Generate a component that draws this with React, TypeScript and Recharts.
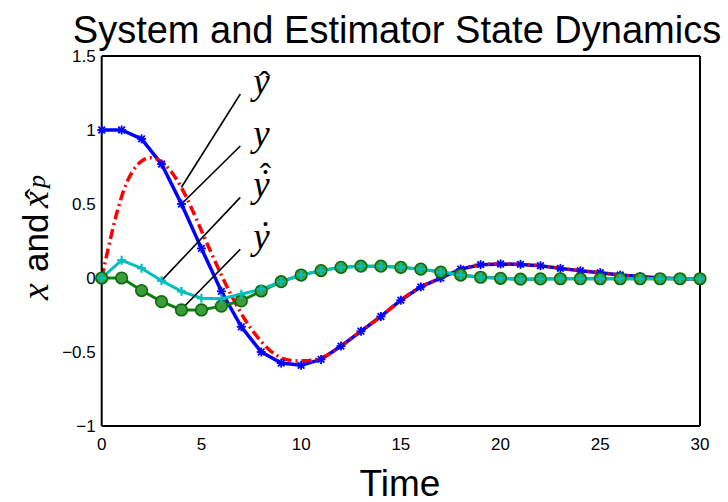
import React from 'react';
import { LineChart, Line, XAxis, YAxis, ReferenceLine, ReferenceDot } from 'recharts';

// ---- data ----
const time = [0, 1, 2, 3, 4, 5, 6, 7, 8, 9, 10, 11, 12, 13, 14, 15, 16, 17, 18, 19, 20, 21, 22, 23, 24, 25, 26, 27, 28, 29, 30];
// y (blue, stars)
const ySeries = [1.0, 1.0, 0.94, 0.77, 0.5, 0.2, -0.09, -0.33, -0.5, -0.575, -0.59, -0.55, -0.46, -0.36, -0.26, -0.15, -0.06, 0.0, 0.06, 0.09, 0.095, 0.092, 0.083, 0.065, 0.049, 0.036, 0.02, 0.01, 0.0, -0.005, -0.005];
// y-hat (red dash-dot)
const yHatSeries = [0, 0.55, 0.79, 0.785, 0.61, 0.32, 0.02, -0.24, -0.43, -0.54, -0.56, -0.54, -0.46, -0.36, -0.26, -0.15, -0.06, 0.0, 0.06, 0.09, 0.095, 0.092, 0.083, 0.065, 0.049, 0.036, 0.02, 0.01, 0.0, -0.005, -0.005];
// y-dot-hat (cyan, plus)
const yDotHatSeries = [0, 0.12, 0.066, -0.018, -0.09, -0.137, -0.14, -0.11, -0.076, -0.025, 0.02, 0.05, 0.072, 0.08, 0.08, 0.072, 0.06, 0.04, 0.02, 0.005, -0.002, -0.008, -0.006, -0.005, -0.005, -0.005, -0.005, -0.005, -0.005, -0.005, -0.005];
// y-dot (green, circles)
const yDotSeries = [0, 0.0, -0.085, -0.16, -0.216, -0.216, -0.19, -0.155, -0.088, -0.025, 0.02, 0.05, 0.072, 0.08, 0.08, 0.072, 0.06, 0.04, 0.02, 0.005, -0.002, -0.008, -0.006, -0.005, -0.005, -0.005, -0.005, -0.005, -0.005, -0.005, -0.005];

const xTicks = [0, 5, 10, 15, 20, 25, 30];
const yTicks = [-1, -0.5, 0, 0.5, 1, 1.5];
const yTickLabels = ['\u22121', '\u22120.5', '0', '0.5', '1', '1.5'];

// annotation pointers: from label anchor to curve point
const annotKinds = ['hat', 'plain', 'dothat', 'dot'];
const annotFromX = [6.95, 6.95, 6.95, 6.95];
const annotFromY = [1.243, 0.892, 0.545, 0.194];
const annotToX = [4, 4, 3, 4];
const annotToY = [0.613, 0.5, -0.018, -0.211];

const titleText = 'System and Estimator State Dynamics';
const xLabelText = 'Time';

const data = time.map((t, i) => ({
  t,
  y: ySeries[i],
  yHat: yHatSeries[i],
  yDotHat: yDotHatSeries[i],
  yDot: yDotSeries[i],
}));

const SANS = 'Liberation Sans, Arial, Helvetica, sans-serif';
const SERIF = 'Liberation Serif, Times New Roman, serif';

const StarDot = (props: any) => {
  const { cx, cy } = props;
  if (cx == null || cy == null) return null;
  const s = 4.5;
  const d = 3.3;
  return (
    <g stroke="#0000ff" strokeWidth={1.8}>
      <line x1={cx - s} y1={cy} x2={cx + s} y2={cy} />
      <line x1={cx} y1={cy - s} x2={cx} y2={cy + s} />
      <line x1={cx - d} y1={cy - d} x2={cx + d} y2={cy + d} />
      <line x1={cx - d} y1={cy + d} x2={cx + d} y2={cy - d} />
    </g>
  );
};

const PlusDot = (props: any) => {
  const { cx, cy } = props;
  if (cx == null || cy == null) return null;
  const s = 4.5;
  return (
    <g stroke="#00bfbf" strokeWidth={2.2}>
      <line x1={cx - s} y1={cy} x2={cx + s} y2={cy} />
      <line x1={cx} y1={cy - s} x2={cx} y2={cy + s} />
    </g>
  );
};

const CircleDot = (props: any) => {
  const { cx, cy } = props;
  if (cx == null || cy == null) return null;
  return <circle cx={cx} cy={cy} r={5.8} fill="#3c9c3c" stroke="#0a6a0a" strokeWidth={1.6} />;
};

const makeAnnotLabel = (kind: string) => (props: any) => {
  const { cx, cy } = props;
  if (cx == null || cy == null) return <g />;
  const by = cy;
  const tx = cx + 13;
  const ax = cx + 25;
  return (
    <g>
      <text x={tx} y={by} fontFamily={SERIF} fontStyle="italic" fontSize={37} fill="#000">y</text>
      {(kind === 'dot' || kind === 'dothat') && (
        <text x={ax} y={by - 2} textAnchor="middle" fontFamily={SERIF} fontSize={37} fill="#000">{'\u02D9'}</text>
      )}
      {kind === 'hat' && (
        <text x={ax - 1} y={by + 1} textAnchor="middle" fontFamily={SERIF} fontSize={34} fill="#000">{'\u02C6'}</text>
      )}
      {kind === 'dothat' && (
        <text x={ax} y={by - 10} textAnchor="middle" fontFamily={SERIF} fontSize={34} fill="#000">{'\u02C6'}</text>
      )}
    </g>
  );
};

const tickStyle = { fontFamily: SANS, fontSize: 17, fill: '#000' };
const axisLineStyle = { stroke: '#000', strokeWidth: 2 };
const tickLineStyle = { stroke: '#000', strokeWidth: 1.5 };

export default function App() {
  return (
    <div style={{ position: 'absolute', left: 0, top: 0, width: 728, height: 502, background: '#fff' }}>
      <LineChart
        width={728}
        height={502}
        data={data}
        margin={{ top: 56, right: 28, bottom: 46, left: 41.7 }}
      >
        {/* labelled axes */}
        <XAxis
          dataKey="t"
          type="number"
          domain={[0, 30]}
          ticks={xTicks}
          height={30}
          tick={tickStyle}
          tickSize={0}
          tickMargin={12}
          axisLine={axisLineStyle}
          tickLine={false}
          interval={0}
        />
        <YAxis
          type="number"
          domain={[-1, 1.5]}
          ticks={yTicks}
          width={60}
          tick={tickStyle}
          tickSize={0}
          tickMargin={6}
          axisLine={axisLineStyle}
          tickLine={false}
          tickFormatter={(v: number) => yTickLabels[yTicks.indexOf(v)] ?? String(v)}
          interval={0}
        />
        {/* inward tick marks and box (mirrored axes) */}
        <XAxis
          xAxisId="bm"
          dataKey="t"
          orientation="bottom"
          mirror
          type="number"
          domain={[0, 30]}
          allowDataOverflow
          ticks={xTicks}
          height={10}
          tick={false}
          tickSize={7}
          axisLine={false}
          tickLine={tickLineStyle}
          interval={0}
        />
        <XAxis
          xAxisId="top"
          dataKey="t"
          orientation="top"
          mirror
          type="number"
          domain={[0, 30]}
          allowDataOverflow
          ticks={xTicks}
          height={10}
          tick={false}
          tickSize={7}
          axisLine={axisLineStyle}
          tickLine={tickLineStyle}
          interval={0}
        />
        <YAxis
          yAxisId="lm"
          orientation="left"
          mirror
          type="number"
          domain={[-1, 1.5]}
          allowDataOverflow
          ticks={yTicks}
          width={10}
          tick={false}
          tickSize={7}
          axisLine={false}
          tickLine={tickLineStyle}
          interval={0}
        />
        <YAxis
          yAxisId="right"
          orientation="right"
          mirror
          type="number"
          domain={[-1, 1.5]}
          allowDataOverflow
          ticks={yTicks}
          width={10}
          tick={false}
          tickSize={7}
          axisLine={axisLineStyle}
          tickLine={tickLineStyle}
          interval={0}
        />
        {/* invisible carriers so the box axes have data */}
        <Line xAxisId="bm" yAxisId="lm" dataKey="y" stroke="none" dot={false} activeDot={false} legendType="none" isAnimationActive={false} />
        <Line xAxisId="top" yAxisId="right" dataKey="y" stroke="none" dot={false} activeDot={false} legendType="none" isAnimationActive={false} />

        <Line
          dataKey="y"
          stroke="#0000ff"
          strokeWidth={3.5}
          type="linear"
          dot={<StarDot />}
          isAnimationActive={false}
        />
        <Line
          dataKey="yHat"
          stroke="#ff0000"
          strokeWidth={3.5}
          type="natural"
          strokeDasharray="10 4 2 4"
          dot={false}
          isAnimationActive={false}
        />
        <Line
          dataKey="yDot"
          stroke="#0b800b"
          strokeWidth={3}
          type="linear"
          dot={<CircleDot />}
          isAnimationActive={false}
        />
        <Line
          dataKey="yDotHat"
          stroke="#00bfbf"
          strokeWidth={3}
          type="linear"
          dot={<PlusDot />}
          isAnimationActive={false}
        />
        {annotKinds.map((k, i) => (
          <ReferenceLine
            key={'l' + i}
            segment={[{ x: annotFromX[i], y: annotFromY[i] }, { x: annotToX[i], y: annotToY[i] }]}
            stroke="#000"
            strokeWidth={1.6}
          />
        ))}
        {annotKinds.map((k, i) => (
          <ReferenceDot
            key={'d' + i}
            x={annotFromX[i]}
            y={annotFromY[i]}
            r={0}
            shape={makeAnnotLabel(k)}
          />
        ))}
      </LineChart>
      <svg
        width={728}
        height={502}
        style={{ position: 'absolute', left: 0, top: 0, pointerEvents: 'none' }}
      >
        <text x={397} y={43} textAnchor="middle" fontFamily={SANS} fontSize={38} fill="#000">{titleText}</text>
        <text x={400} y={496} textAnchor="middle" fontFamily={SANS} fontSize={37} fill="#000">{xLabelText}</text>
        <g transform="translate(48,300) rotate(-90)">
          <text x={0} y={0} fontFamily={SERIF} fontStyle="italic" fontSize={38} fill="#000">x</text>
          <text x={28} y={0} fontFamily={SANS} fontSize={35} fill="#000">and</text>
          <text x={92} y={0} fontFamily={SERIF} fontStyle="italic" fontSize={38} fill="#000">x</text>
          <text x={106} y={1} textAnchor="middle" fontFamily={SERIF} fontSize={34} fill="#000">{'\u02C6'}</text>
          <text x={112} y={-3} fontFamily={SERIF} fontStyle="italic" fontSize={26} fill="#000">p</text>
        </g>
      </svg>
    </div>
  );
}
